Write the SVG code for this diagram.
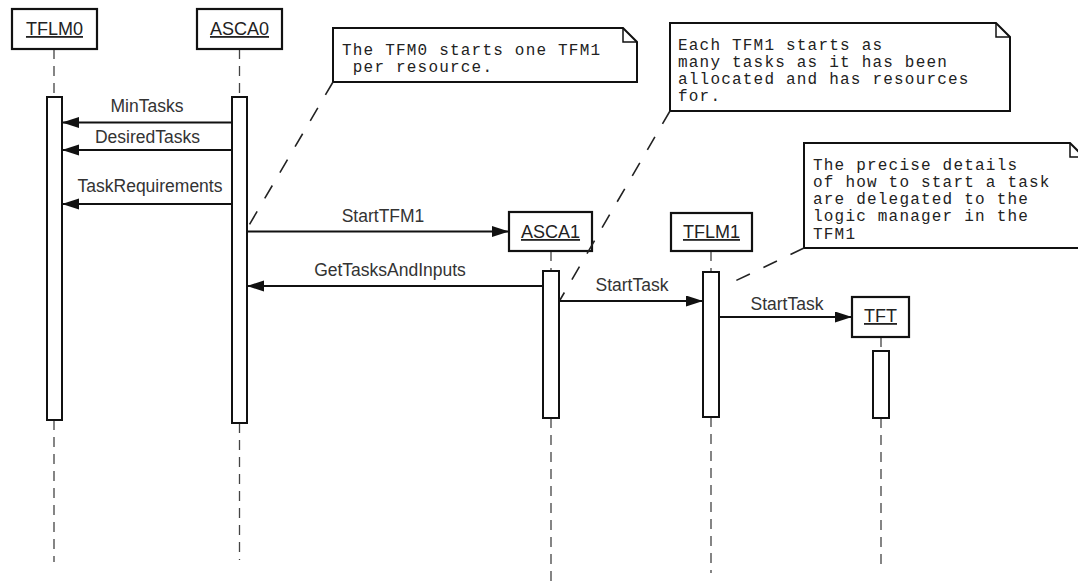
<svg xmlns="http://www.w3.org/2000/svg" width="1078" height="586" viewBox="0 0 1078 586">
  <style>
    .obj { fill: #fff; stroke: #111; stroke-width: 2.2; }
    .bar { fill: #fff; stroke: #111; stroke-width: 2; }
    .life { stroke: #444; stroke-width: 1.3; stroke-dasharray: 10 7; fill: none; }
    .name { font-family: "Liberation Sans", Arial, sans-serif; font-size: 18px; fill: #222; text-anchor: middle; text-decoration: underline; }
    .msg { stroke: #111; stroke-width: 2; fill: none; marker-end: url(#arrow); }
    .lbl { font-family: "Liberation Sans", Arial, sans-serif; font-size: 17.5px; fill: #333; text-anchor: middle; }
    .note { fill: #fff; stroke: #111; stroke-width: 2; stroke-linejoin: miter; }
    .fold { fill: none; stroke: #111; stroke-width: 1.5; }
    .ntext { font-family: "Liberation Mono", "Courier New", monospace; font-size: 16px; letter-spacing: 1.2px; fill: #222; }
    .anchor { stroke: #222; stroke-width: 1.6; stroke-dasharray: 15 15; fill: none; }
  </style>
  <defs>
    <marker id="arrow" markerUnits="userSpaceOnUse" markerWidth="18" markerHeight="12" refX="17" refY="5.5" orient="auto">
      <path d="M0,0 L17,5.5 L0,11 Z" fill="#111"/>
    </marker>
  </defs>

  <rect x="0" y="0" width="1078" height="586" fill="#fff"/>

  <!-- lifeline TFLM0 -->
  <g id="TFLM0">
    <path class="life" d="M54,49 V97 M54,420 V562"/>
    <rect class="obj" x="12" y="9" width="85" height="40"/>
    <text class="name" x="54.5" y="35">TFLM0</text>
    <rect class="bar" x="47" y="97" width="15" height="323"/>
  </g>

  <!-- lifeline ASCA0 -->
  <g id="ASCA0">
    <path class="life" d="M239.5,49 V97 M239.5,423 V560"/>
    <rect class="obj" x="197" y="9" width="85" height="40"/>
    <text class="name" x="239.5" y="35">ASCA0</text>
    <rect class="bar" x="232" y="97" width="15" height="326"/>
  </g>

  <!-- lifeline ASCA1 -->
  <g id="ASCA1">
    <path class="life" d="M551,251 V271 M551,418 V581"/>
    <rect class="obj" x="509" y="212" width="83" height="39"/>
    <text class="name" x="550.5" y="238">ASCA1</text>
    <rect class="bar" x="543" y="271" width="16" height="147"/>
  </g>

  <!-- lifeline TFLM1 -->
  <g id="TFLM1">
    <path class="life" d="M711,251 V272 M711,417 V573"/>
    <rect class="obj" x="671" y="213" width="81" height="38"/>
    <text class="name" x="711.5" y="238">TFLM1</text>
    <rect class="bar" x="703" y="272" width="16" height="145"/>
  </g>

  <!-- lifeline TFT -->
  <g id="TFT">
    <path class="life" d="M881,337 V351 M881,418 V566"/>
    <rect class="obj" x="852" y="297" width="57" height="40"/>
    <text class="name" x="880.5" y="322">TFT</text>
    <rect class="bar" x="873" y="351" width="16" height="67"/>
  </g>

  <!-- note: one TFM1 per resource -->
  <g id="note1">
    <path class="note" d="M333,28 H623 L637,42 V82 H333 Z"/>
    <path class="fold" d="M623,28 V42 H637"/>
    <text class="ntext" x="342" y="55">The TFM0 starts one TFM1</text>
    <text class="ntext" x="342" y="72" xml:space="preserve"> per resource.</text>
  </g>

  <!-- note: tasks per TFM1 -->
  <g id="note2">
    <path class="note" d="M670,23 H996 L1010,37 V111 H670 Z"/>
    <path class="fold" d="M996,23 V37 H1010"/>
    <text class="ntext" x="678" y="50">Each TFM1 starts as</text>
    <text class="ntext" x="678" y="67">many tasks as it has been</text>
    <text class="ntext" x="678" y="84">allocated and has resources</text>
    <text class="ntext" x="678" y="101">for.</text>
  </g>

  <!-- note: delegation to the logic manager -->
  <g id="note3">
    <path class="note" d="M804,143 H1070 L1084,157 V248 H804 Z"/>
    <path class="fold" d="M1070,143 V157 H1084"/>
    <text class="ntext" x="813" y="169.5">The precise details</text>
    <text class="ntext" x="813" y="186.8">of how to start a task</text>
    <text class="ntext" x="813" y="204.1">are delegated to the</text>
    <text class="ntext" x="813" y="221.4">logic manager in the</text>
    <text class="ntext" x="813" y="238.7">TFM1</text>
  </g>

  <!-- messages and note anchors -->
  <g id="connectors">
    <path class="anchor" d="M333,82 L248,227"/>
    <path class="anchor" d="M670,111 L560,300"/>
    <path class="anchor" d="M804,248 L733,282"/>

    <path class="msg" d="M232,122.5 H62"/>
    <text class="lbl" x="147" y="112">MinTasks</text>

    <path class="msg" d="M232,150 H62"/>
    <text class="lbl" x="147.5" y="143">DesiredTasks</text>

    <path class="msg" d="M232,204 H62"/>
    <text class="lbl" x="150" y="192">TaskRequirements</text>

    <path class="msg" d="M247,231.5 H509"/>
    <text class="lbl" x="383" y="222">StartTFM1</text>

    <path class="msg" d="M543,286 H247"/>
    <text class="lbl" x="390" y="276">GetTasksAndInputs</text>

    <path class="msg" d="M559,301 H703"/>
    <text class="lbl" x="632" y="291">StartTask</text>

    <path class="msg" d="M719,317 H852"/>
    <text class="lbl" x="787" y="309.5">StartTask</text>
  </g>
</svg>
